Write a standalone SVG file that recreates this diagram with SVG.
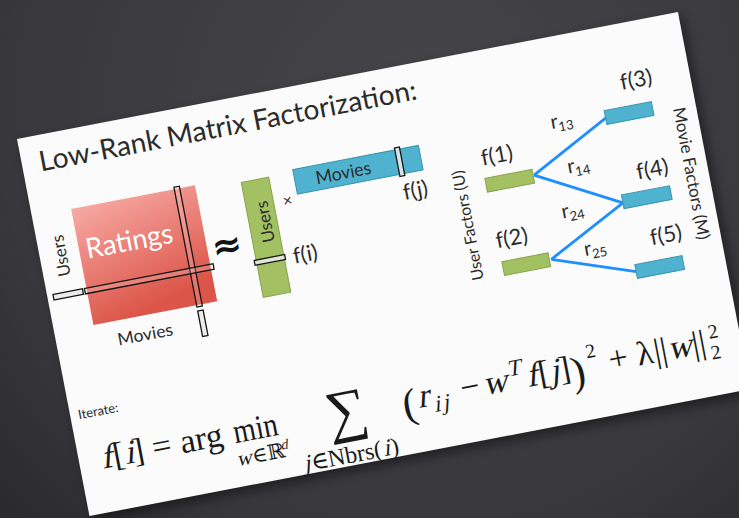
<svg xmlns="http://www.w3.org/2000/svg" width="739" height="518" viewBox="0 0 739 518">
<defs>
<radialGradient id="bg" cx="420" cy="120" r="700" gradientUnits="userSpaceOnUse">
<stop offset="0" stop-color="#46454a"/>
<stop offset="0.6" stop-color="#38373c"/>
<stop offset="1" stop-color="#1f1f22"/>
</radialGradient>
<linearGradient id="red" x1="0" y1="0" x2="0.3" y2="1">
<stop offset="0" stop-color="#f7a9a4"/>
<stop offset="1" stop-color="#dc5549"/>
</linearGradient>
<filter id="sh" x="-10%" y="-10%" width="120%" height="120%">
<feGaussianBlur stdDeviation="6"/>
</filter>
<style>
.lbl{font-family:Lato,"Open Sans",sans-serif;fill:#2b2b2b}
.m{font-family:"Liberation Serif","DejaVu Serif","Times New Roman",serif;fill:#1a1a1a}
.bar{fill:#ffffff;fill-opacity:0.18;stroke:#151515;stroke-width:1.3}
.sbar{fill:#ececec;stroke:#151515;stroke-width:1.3}
.ublk{fill:#a3c063;stroke:#86a34b;stroke-width:1}
.mblk{fill:#4fb3cf;stroke:#3a93ad;stroke-width:1}
.edge{stroke:#1e8fff;stroke-width:2.8;fill:none}
</style>
</defs>
<rect width="739" height="518" fill="url(#bg)"/>
<g transform="translate(17,139) rotate(-10.876)">
<rect x="4" y="6" width="673" height="384" fill="#000" opacity="0.45" filter="url(#sh)"/>
<rect id="slide" width="673" height="384" fill="#fbfbfb"/>
<text class="lbl" x="17.5" y="36.5" font-size="28" textLength="384" lengthAdjust="spacingAndGlyphs">Low-Rank Matrix Factorization:</text>

<g id="ratings">
<rect x="40" y="79" width="126" height="118" fill="url(#red)"/>
<text x="47" y="131" font-size="28" fill="#fff" font-family="Lato,sans-serif" textLength="88" lengthAdjust="spacingAndGlyphs">Ratings</text>
<rect class="bar" x="145" y="77" width="5.5" height="122"/>
<rect class="bar" x="38" y="159.5" width="131" height="5.5"/>
<rect class="sbar" x="6" y="159.5" width="30" height="5.5"/>
<rect class="sbar" x="145" y="203" width="5.5" height="26"/>
<text class="lbl" transform="translate(27,123) rotate(-90)" text-anchor="middle" font-size="17">Users</text>
<text class="lbl" x="61" y="222" font-size="17" textLength="56" lengthAdjust="spacingAndGlyphs">Movies</text>
</g>
<text id="approx" x="186" y="156" font-size="36" font-weight="bold" text-anchor="middle" font-family="'DejaVu Sans',sans-serif" fill="#111">≈</text>

<g id="userfactor">
<rect class="ublk" x="212" y="85" width="28" height="117"/>
<text class="lbl" transform="translate(234,128) rotate(-90)" text-anchor="middle" font-size="17">Users</text>
<rect class="sbar" x="210" y="164" width="31" height="5" fill-opacity="0.85"/>
<text class="lbl" x="249" y="175" font-size="22">f(i)</text>
</g>
<text id="times" class="lbl" x="254" y="117" font-size="16" text-anchor="middle">×</text>
<g id="moviefactor">
<rect class="mblk" x="265" y="82" width="128" height="25"/>
<text class="lbl" x="286" y="101" font-size="18" fill="#1f1f1f" textLength="56" lengthAdjust="spacingAndGlyphs">Movies</text>
<rect class="sbar" x="369" y="80" width="5" height="29" fill-opacity="0.85"/>
<text class="lbl" x="369" y="133" font-size="22">f(j)</text>
</g>

<text class="lbl" transform="translate(432,170) rotate(-90)" text-anchor="middle" font-size="16">User Factors (U)</text>
<text class="lbl" transform="translate(650,161) rotate(90)" text-anchor="middle" font-size="17">Movie Factors (M)</text>

<g id="connectors">
<line class="edge" x1="501" y1="133" x2="583" y2="90"/>
<line class="edge" x1="501" y1="133" x2="583" y2="177"/>
<line class="edge" x1="502" y1="219" x2="583" y2="177"/>
<line class="edge" x1="502" y1="219" x2="583" y2="247"/>
<text class="lbl" x="527" y="91" font-size="20">r<tspan font-size="13" dy="4">13</tspan></text>
<text class="lbl" x="535" y="138" font-size="20">r<tspan font-size="13" dy="4">14</tspan></text>
<text class="lbl" x="521" y="181" font-size="20">r<tspan font-size="13" dy="4">24</tspan></text>
<text class="lbl" x="536" y="222" font-size="20">r<tspan font-size="13" dy="4">25</tspan></text>
</g>

<g id="f1"><rect class="ublk" x="452" y="127" width="48" height="14"/><text class="lbl" x="452" y="114" font-size="22">f(1)</text></g>
<g id="f2"><rect class="ublk" x="453" y="212" width="47" height="14"/><text class="lbl" x="451" y="198" font-size="22">f(2)</text></g>
<g id="f3"><rect class="mblk" x="582" y="83" width="48" height="14"/><text class="lbl" x="603" y="66" font-size="22">f(3)</text></g>
<g id="f4"><rect class="mblk" x="583" y="169" width="49" height="14"/><text class="lbl" x="602" y="157" font-size="22">f(4)</text></g>
<g id="f5"><rect class="mblk" x="583" y="240" width="48" height="14"/><text class="lbl" x="603" y="224" font-size="22">f(5)</text></g>

<g id="formula" class="m">
<text class="lbl" x="8" y="287" font-size="13">Iterate:</text>
<text transform="translate(22,340) skewX(-14)" font-size="34">f</text>
<text x="34.5" y="340" font-size="34">[</text>
<text transform="translate(46,340) skewX(-14)" font-size="34">i</text>
<text x="54.5" y="340" font-size="34">]</text>
<text x="84" y="340" font-size="34" text-anchor="middle">=</text>
<text x="103" y="340" font-size="34">arg</text>
<text x="157" y="340" font-size="34" textLength="45" lengthAdjust="spacingAndGlyphs">min</text>
<text transform="translate(155,363) skewX(-14)" font-size="21">w</text>
<text x="171" y="363" font-size="21">∈ℝ</text>
<text transform="translate(201,355) skewX(-14)" font-size="14">d</text>
<text x="272" y="348" font-size="58" text-anchor="middle">∑</text>
<text transform="translate(220,381) skewX(-14)" font-size="24">j</text>
<text x="228" y="381" font-size="24">∈</text>
<text x="245" y="381" font-size="24">Nbrs(</text>
<text transform="translate(301,381) skewX(-14)" font-size="24">i</text>
<text x="309" y="381" font-size="24">)</text>
<text x="335.5" y="348" font-size="42" text-anchor="middle">(</text>
<text transform="translate(344,340) skewX(-14)" font-size="34">r</text>
<text transform="translate(359,347) skewX(-14)" font-size="23">i</text>
<text transform="translate(368,347) skewX(-14)" font-size="23">j</text>
<text x="398" y="340" font-size="34" text-anchor="middle">−</text>
<text transform="translate(411,340) skewX(-14)" font-size="34">w</text>
<text transform="translate(437,326) skewX(-14)" font-size="23">T</text>
<text transform="translate(455,340) skewX(-14)" font-size="34">f</text>
<text x="467.5" y="340" font-size="34">[</text>
<text transform="translate(479,340) skewX(-14)" font-size="34">j</text>
<text x="488.5" y="340" font-size="34">]</text>
<text x="500" y="348" font-size="42">)</text>
<text x="518" y="323" font-size="20">2</text>
<text x="549" y="340" font-size="34" text-anchor="middle">+</text>
<text x="576" y="340" font-size="34" text-anchor="middle">λ</text>
<text x="585" y="340" font-size="34">||</text>
<text transform="translate(599,340) skewX(-14)" font-size="34">w</text>
<text x="624" y="340" font-size="34">||</text>
<text x="642" y="327" font-size="20">2</text>
<text x="641" y="348" font-size="20">2</text>
</g>
</g>
</svg>
